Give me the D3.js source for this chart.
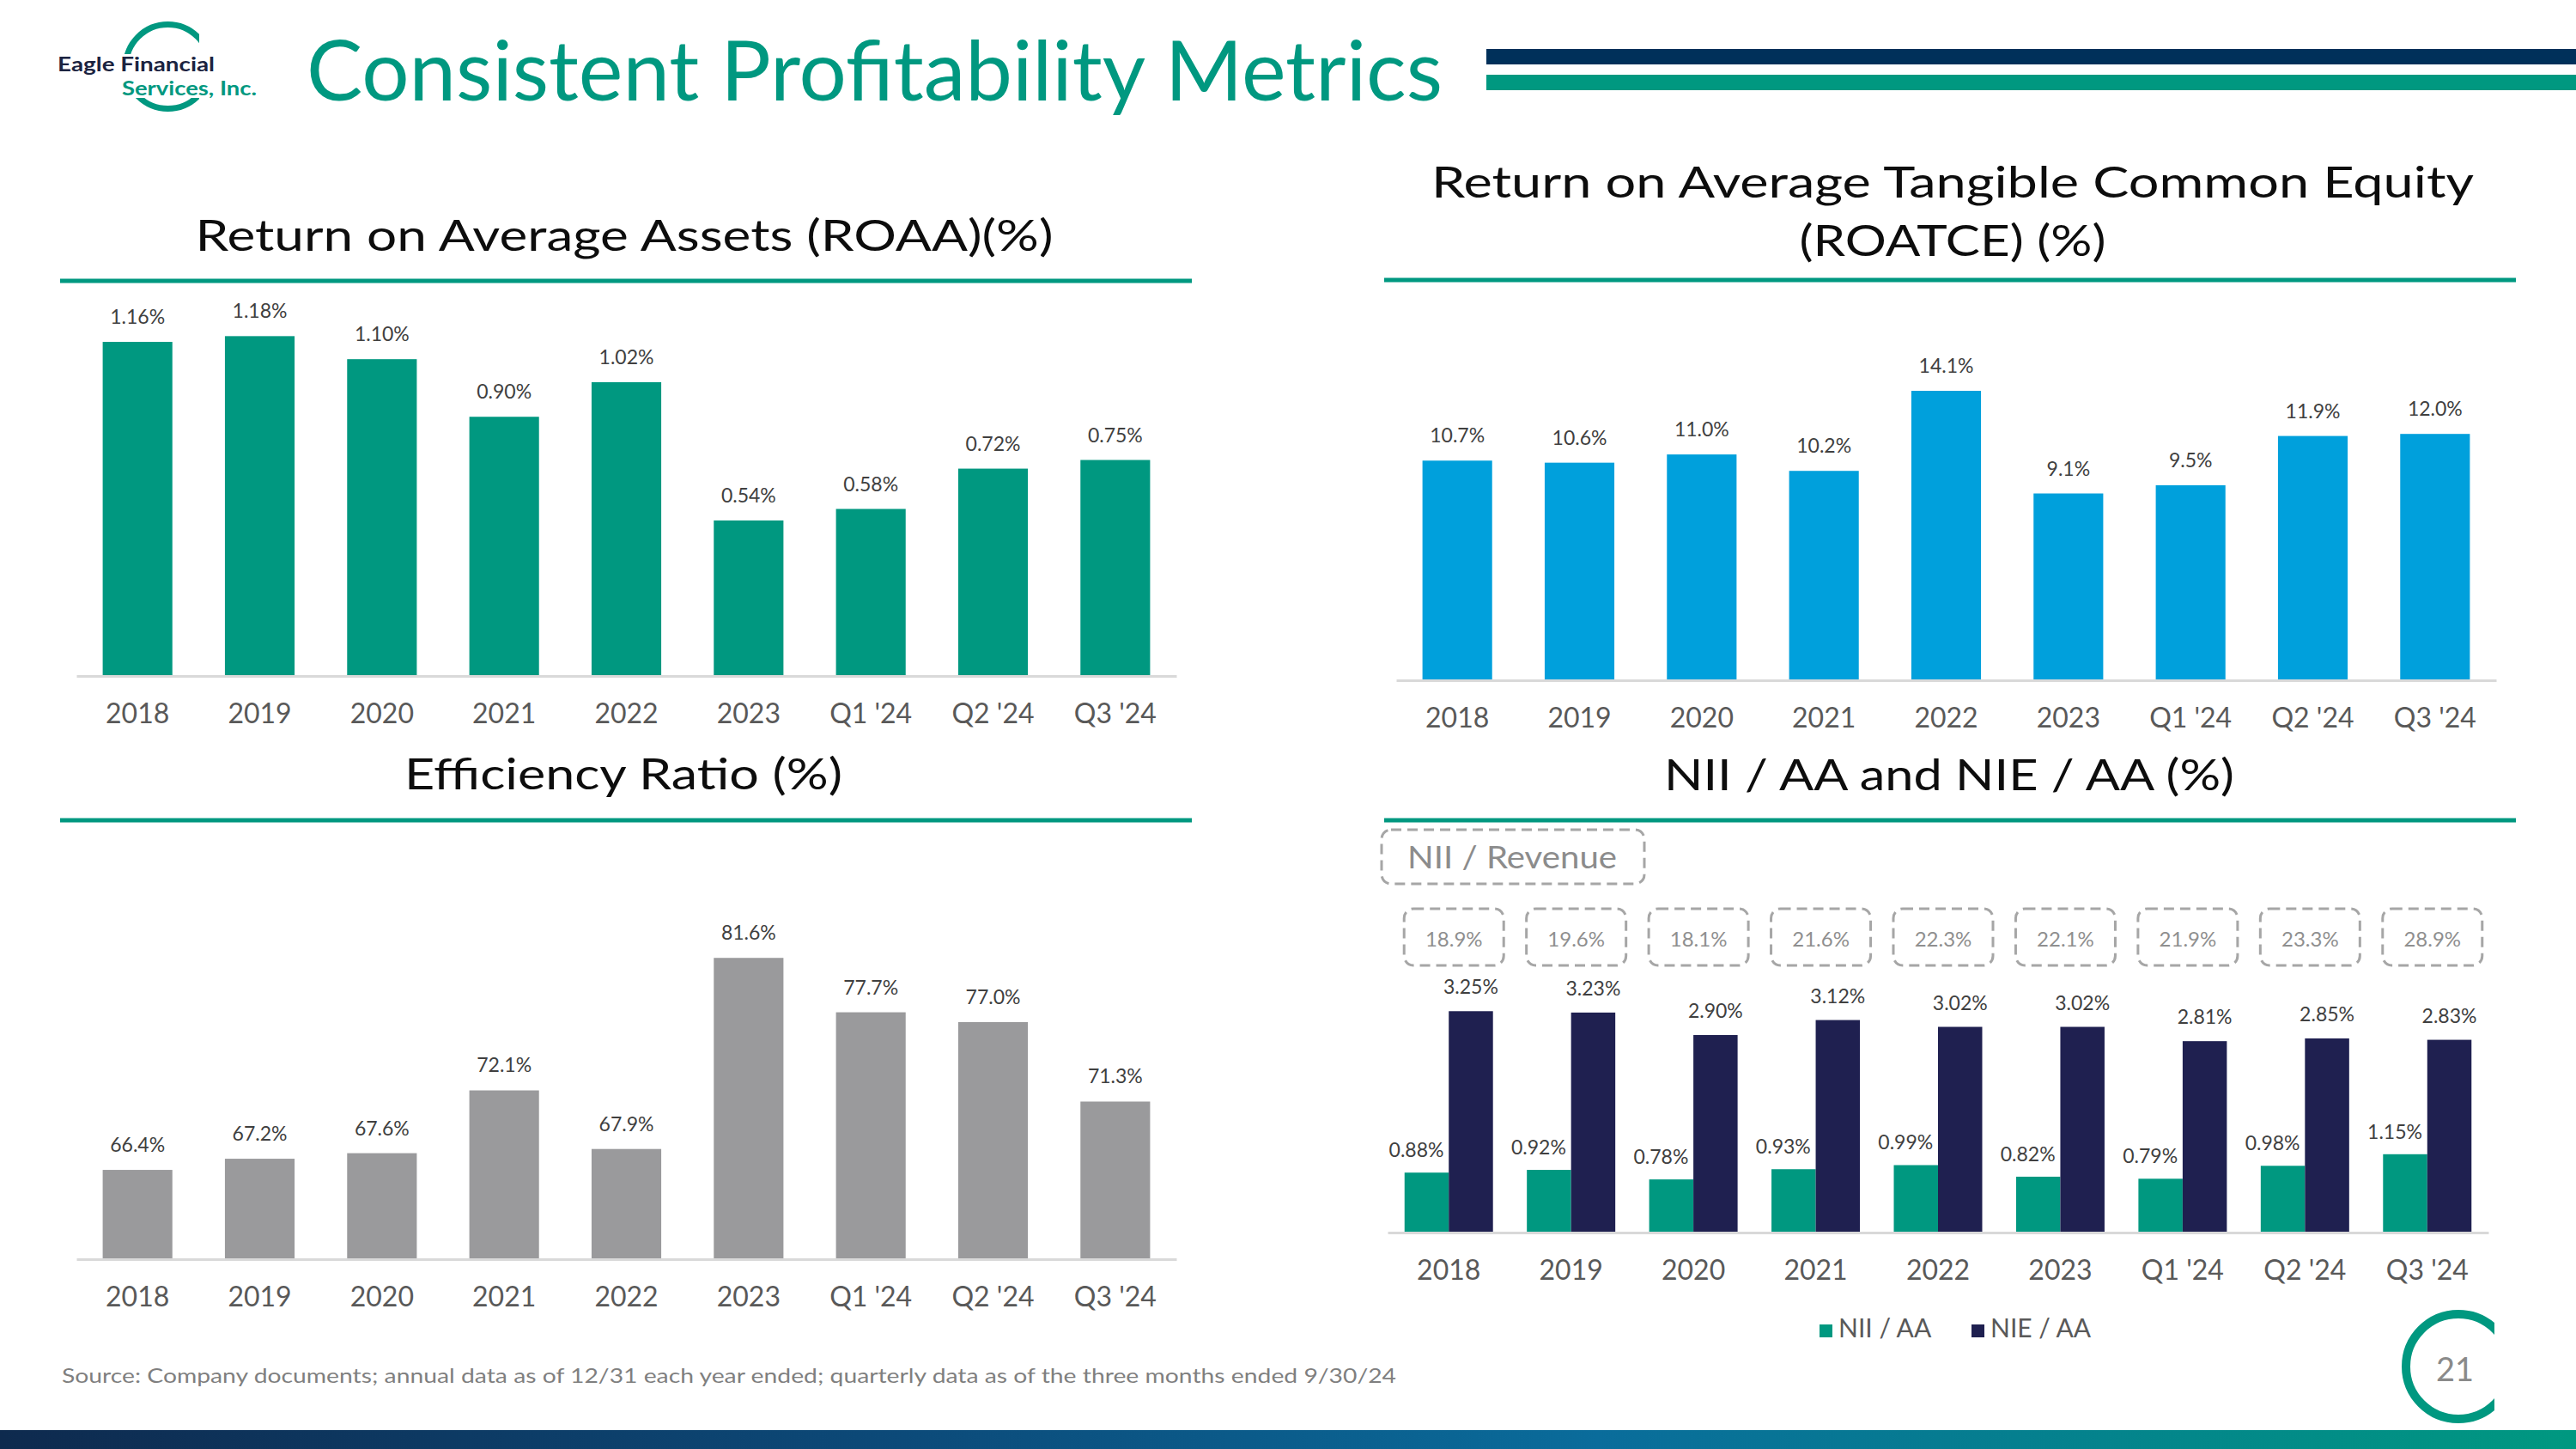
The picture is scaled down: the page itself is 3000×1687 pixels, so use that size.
<!DOCTYPE html>
<html>
<head>
<meta charset="utf-8">
<script src="https://cdnjs.cloudflare.com/ajax/libs/d3/7.8.5/d3.min.js"></script>
<style>
  html, body { margin: 0; padding: 0; background: #ffffff; }
  svg { display: block; }
  text { font-family: Lato, "Open Sans", sans-serif; }
</style>
</head>
<body>
<script>
// ---------------- DATA ----------------
const categories = ["2018", "2019", "2020", "2021", "2022", "2023", "Q1 '24", "Q2 '24", "Q3 '24"];
const roaa = [1.16, 1.18, 1.10, 0.90, 1.02, 0.54, 0.58, 0.72, 0.75];
const roatce = [10.7, 10.6, 11.0, 10.2, 14.1, 9.1, 9.5, 11.9, 12.0];
const efficiencyRatio = [66.4, 67.2, 67.6, 72.1, 67.9, 81.6, 77.7, 77.0, 71.3];
const niiAA = [0.88, 0.92, 0.78, 0.93, 0.99, 0.82, 0.79, 0.98, 1.15];
const nieAA = [3.25, 3.23, 2.90, 3.12, 3.02, 3.02, 2.81, 2.85, 2.83];
const niiRevenue = [18.9, 19.6, 18.1, 21.6, 22.3, 22.1, 21.9, 23.3, 28.9];
const seriesNames = ["NII / AA", "NIE / AA"];

const pageTitle = "Consistent Profitability Metrics";
const roaaTitle = "Return on Average Assets (ROAA)(%)";
const roatceTitle = ["Return on Average Tangible Common Equity", "(ROATCE) (%)"];
const effTitle = "Efficiency Ratio (%)";
const niiTitle = "NII / AA and NIE / AA (%)";
const niiRevLabel = "NII / Revenue";
const sourceNote = "Source: Company documents; annual data as of 12/31 each year ended; quarterly data as of the three months ended 9/30/24";
const pageNumber = "21";

// ---------------- STYLE ----------------
const TEAL = "#009880", NAVY_BAR = "#1f2050", BLUE = "#00a0dc", GRAY_BAR = "#9a9a9c", DARK = "#00305a";
const W = 3000, H = 1687;

const svg = d3.select("body").append("svg").attr("width", W).attr("height", H)
  .attr("viewBox", `0 0 ${W} ${H}`);
svg.append("rect").attr("width", W).attr("height", H).attr("fill", "#fff");

const defs = svg.append("defs");
const grad = defs.append("linearGradient").attr("id", "footGrad").attr("x1", 0).attr("x2", 1).attr("y1", 0).attr("y2", 0);
[[0, "#0e2a4e"], [0.35, "#0c4a79"], [0.62, "#0a6c9b"], [0.85, "#03878a"], [1, "#009880"]]
  .forEach(([o, c]) => grad.append("stop").attr("offset", o).attr("stop-color", c));

// ---------------- HEADER ----------------
// logo arc
const logoClip = defs.append("clipPath").attr("id", "logoClip");
logoClip.append("rect").attr("x", 0).attr("y", 0).attr("width", 232).attr("height", 63);
logoClip.append("rect").attr("x", 0).attr("y", 114).attr("width", 232).attr("height", 40);
svg.append("circle").attr("cx", 195.5).attr("cy", 77.5).attr("r", 49)
  .attr("fill", "none").attr("stroke", TEAL).attr("stroke-width", 7).attr("clip-path", "url(#logoClip)");
svg.append("text").attr("x", 67).attr("y", 83).attr("font-size", 23).attr("font-weight", 700)
  .attr("fill", "#1b2340").attr("textLength", 183).attr("lengthAdjust", "spacingAndGlyphs")
  .text("Eagle Financial");
svg.append("text").attr("x", 142).attr("y", 111).attr("font-size", 23).attr("font-weight", 700)
  .attr("fill", TEAL).attr("textLength", 157).attr("lengthAdjust", "spacingAndGlyphs")
  .text("Services, Inc.");

svg.append("text").attr("x", 357).attr("y", 117).attr("font-size", 97).attr("fill", TEAL)
  .attr("textLength", 1323).attr("lengthAdjust", "spacingAndGlyphs").text(pageTitle);

svg.append("rect").attr("x", 1731).attr("y", 57).attr("width", W - 1731).attr("height", 18).attr("fill", DARK);
svg.append("rect").attr("x", 1731).attr("y", 87).attr("width", W - 1731).attr("height", 18).attr("fill", TEAL);

// ---------------- HELPERS ----------------
function sectionTitle(lines, cx, baselines, widths) {
  lines.forEach((t, i) => {
    svg.append("text").attr("x", cx).attr("y", baselines[i]).attr("text-anchor", "middle")
      .attr("font-size", 50).attr("fill", "#0d0d0d")
      .attr("textLength", widths[i]).attr("lengthAdjust", "spacingAndGlyphs").text(t);
  });
}
function rule(x1, x2, y) {
  svg.append("line").attr("x1", x1).attr("x2", x2).attr("y1", y).attr("y2", y)
    .attr("stroke", TEAL).attr("stroke-width", 5);
}
function xAxis(x, yBase) {
  const g = svg.append("g").attr("transform", `translate(0,${yBase})`)
    .call(d3.axisBottom(x).tickSize(0).tickSizeOuter(0).tickPadding(32));
  g.select(".domain").attr("stroke", "#d9d9d9").attr("stroke-width", 3);
  g.selectAll("text").attr("font-size", 32).attr("fill", "#595959")
    .style("font-family", "Lato, sans-serif");
  return g;
}
function simpleBars(vals, xRange, yBase, domain, yTop, color, fmt) {
  const x = d3.scaleBand().domain(categories).range(xRange).paddingInner(0.43).paddingOuter(0.215);
  const y = d3.scaleLinear().domain(domain).range([yBase, yTop]);
  const data = categories.map((c, i) => ({ c, v: vals[i] }));
  const g = svg.append("g");
  g.selectAll("rect").data(data).join("rect")
    .attr("x", d => x(d.c)).attr("width", x.bandwidth())
    .attr("y", d => y(d.v)).attr("height", d => yBase - y(d.v)).attr("fill", color);
  g.selectAll("text").data(data).join("text")
    .attr("x", d => x(d.c) + x.bandwidth() / 2).attr("y", d => y(d.v) - 21)
    .attr("text-anchor", "middle").attr("font-size", 23).attr("fill", "#404040")
    .text(d => fmt(d.v) + "%");
  xAxis(x, yBase);
}

// ---------------- ROAA ----------------
sectionTitle([roaaTitle], 727, [292], [999]);
rule(70, 1388, 327);
simpleBars(roaa, [89, 1370], 787, [0, 1.4], 787 - 1.4 * 335.3, TEAL, d3.format(".2f"));

// ---------------- ROATCE ----------------
sectionTitle(roatceTitle, 2274, [230, 298], [1214, 357]);
rule(1612, 2930, 326);
simpleBars(roatce, [1626, 2907], 792, [0, 16], 792 - 16 * 23.9, BLUE, d3.format(".1f"));

// ---------------- EFFICIENCY ----------------
sectionTitle([effTitle], 726, [919], [510]);
rule(70, 1388, 955);
simpleBars(efficiencyRatio, [89, 1370], 1466, [60, 85], 1466 - 25 * 16.24, GRAY_BAR, d3.format(".1f"));

// ---------------- NII / NIE ----------------
sectionTitle([niiTitle], 2270, [920], [664]);
rule(1612, 2930, 955);
{
  const yBase = 1435;
  const x = d3.scaleBand().domain(categories).range([1616, 2898]).paddingInner(0.277).paddingOuter(0.1385);
  const xs = d3.scaleBand().domain(seriesNames).range([0, x.bandwidth()]);
  const y = d3.scaleLinear().domain([0, 3.5]).range([yBase, yBase - 3.5 * 79.3]);
  const colors = d3.scaleOrdinal().domain(seriesNames).range([TEAL, NAVY_BAR]);
  const data = categories.map((c, i) => ({ c, nii: niiAA[i], nie: nieAA[i], rev: niiRevenue[i] }));
  const fmt2 = d3.format(".2f"), fmt1 = d3.format(".1f");

  const grp = svg.append("g").selectAll("g").data(data).join("g")
    .attr("transform", d => `translate(${x(d.c)},0)`);
  grp.append("rect").attr("x", xs(seriesNames[0])).attr("width", xs.bandwidth())
    .attr("y", d => y(d.nii)).attr("height", d => yBase - y(d.nii)).attr("fill", colors(seriesNames[0]));
  grp.append("rect").attr("x", xs(seriesNames[1])).attr("width", xs.bandwidth())
    .attr("y", d => y(d.nie)).attr("height", d => yBase - y(d.nie)).attr("fill", colors(seriesNames[1]));
  grp.append("text").attr("x", xs(seriesNames[0]) + xs.bandwidth() / 2 - 12).attr("y", d => y(d.nii) - 18)
    .attr("text-anchor", "middle").attr("font-size", 23).attr("fill", "#404040").text(d => fmt2(d.nii) + "%");
  grp.append("text").attr("x", xs(seriesNames[1]) + xs.bandwidth() / 2).attr("y", d => y(d.nie) - 20)
    .attr("text-anchor", "middle").attr("font-size", 23).attr("fill", "#404040").text(d => fmt2(d.nie) + "%");

  // NII / Revenue dashed boxes
  const bw = 116, bh = 66, by = 1058;
  grp.append("rect").attr("x", x.bandwidth() / 2 + 6 - bw / 2).attr("y", by).attr("width", bw).attr("height", bh)
    .attr("rx", 11).attr("fill", "none").attr("stroke", "#a6a6a6").attr("stroke-width", 3)
    .attr("stroke-dasharray", "12 7");
  grp.append("text").attr("x", x.bandwidth() / 2 + 6).attr("y", by + 44).attr("text-anchor", "middle")
    .attr("font-size", 24).attr("fill", "#8f8f8f").text(d => fmt1(d.rev) + "%");

  xAxis(x, yBase);

  // legend
  const lg = svg.append("g").selectAll("g").data(seriesNames).join("g")
    .attr("transform", (d, i) => `translate(${2119 + i * 177},0)`);
  lg.append("rect").attr("x", 0).attr("y", 1542).attr("width", 15).attr("height", 15).attr("fill", d => colors(d));
  lg.append("text").attr("x", 22).attr("y", 1557).attr("font-size", 30).attr("fill", "#595959").text(d => d);
}

// NII / Revenue header box
svg.append("rect").attr("x", 1609).attr("y", 966).attr("width", 306).attr("height", 63).attr("rx", 11)
  .attr("fill", "none").attr("stroke", "#a6a6a6").attr("stroke-width", 3).attr("stroke-dasharray", "12 7");
svg.append("text").attr("x", 1639).attr("y", 1011).attr("font-size", 36).attr("fill", "#8c8c8c")
  .attr("textLength", 244).attr("lengthAdjust", "spacingAndGlyphs").text(niiRevLabel);

// ---------------- FOOTER ----------------
svg.append("text").attr("x", 72).attr("y", 1610).attr("font-size", 24).attr("fill", "#7f7f7f")
  .attr("textLength", 1554).attr("lengthAdjust", "spacingAndGlyphs").text(sourceNote);

const pgClip = defs.append("clipPath").attr("id", "pgClip");
pgClip.append("rect").attr("x", 2700).attr("y", 1450).attr("width", 205).attr("height", 237);
svg.append("circle").attr("cx", 2863).attr("cy", 1591).attr("r", 61)
  .attr("fill", "none").attr("stroke", TEAL).attr("stroke-width", 10).attr("clip-path", "url(#pgClip)");
svg.append("text").attr("x", 2859).attr("y", 1608).attr("text-anchor", "middle").attr("font-size", 38)
  .attr("fill", "#8a8a8a").text(pageNumber);

svg.append("rect").attr("x", 0).attr("y", 1665).attr("width", W).attr("height", H - 1665).attr("fill", "url(#footGrad)");
</script>
</body>
</html>
